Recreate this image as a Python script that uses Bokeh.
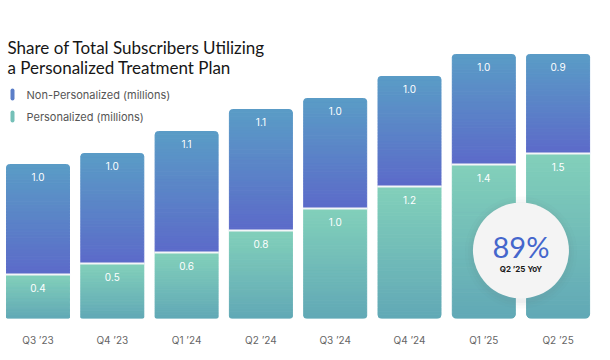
from bokeh.plotting import figure
from bokeh.models import Range1d, FixedTicker, Label, ColumnDataSource
from bokeh.core.properties import value
from bokeh.embed import file_html
from bokeh.resources import INLINE

# ---- data ----
quarters = ["Q3 ’23", "Q4 ’23", "Q1 ’24", "Q2 ’24", "Q3 ’24", "Q4 ’24", "Q1 ’25", "Q2 ’25"]
personalized = [0.4, 0.5, 0.6, 0.8, 1.0, 1.2, 1.4, 1.5]
non_personalized = [1.0, 1.0, 1.1, 1.1, 1.0, 1.0, 1.0, 0.9]
series_names = ["Non-Personalized (millions)", "Personalized (millions)"]
title_lines = ["Share of Total Subscribers Utilizing", "a Personalized Treatment Plan"]
callout_value = "89%"
callout_label = "Q2 ’25 YoY"

# ---- styling ----
TFONT = "Lato"
FONT = "Inter"
W, H = 600, 350
PX_X = 74.3          # px per category
PX_Y = 110.0         # px per million
FRAME_H = 318
XS = -37.5 / PX_X
XE = XS + W / PX_X
YE = FRAME_H / PX_Y
BAR_W = 63 / PX_X

NP_TOP, NP_BOT = (90, 156, 198), (92, 106, 201)
P_TOP, P_BOT = (130, 208, 186), (97, 168, 182)


def mix(c1, c2, t):
    r = [round(a + (b - a) * t) for a, b in zip(c1, c2)]
    return "#%02x%02x%02x" % tuple(r)


def dx(xabs):
    return XS + xabs / PX_X


def dy(yabs):
    return (FRAME_H - yabs) / PX_Y


p = figure(width=W, height=H, output_backend="svg", toolbar_location=None,
           x_range=Range1d(XS, XE), y_range=Range1d(0, YE),
           y_axis_location=None, min_border_left=0, min_border_right=0,
           min_border_top=0, min_border_bottom=H - FRAME_H)
p.outline_line_color = None
p.xgrid.visible = False
p.ygrid.visible = False
p.background_fill_color = "white"
p.border_fill_color = "white"

xs = list(range(len(quarters)))
totals = [a + b for a, b in zip(personalized, non_personalized)]

# gradient strips
N = 36


def gradient_segment(bottoms, tops, ctop, cbot, round_top):
    for k in range(N):
        t0 = k / N
        t1 = (k + 1) / N
        col = mix(cbot, ctop, (k + 0.5) / N)
        src = ColumnDataSource(dict(
            x=xs,
            b=[b + (t - b) * t0 for b, t in zip(bottoms, tops)],
            t=[b + (t - b) * t1 for b, t in zip(bottoms, tops)]))
        kw = {}
        if round_top and k == N - 1:
            kw["border_radius"] = (5, 5, 0, 0)
        if (not round_top) and k == 0:
            kw["border_radius"] = (0, 0, 5, 5)
        p.vbar(x="x", bottom="b", top="t", width=BAR_W, source=src,
               fill_color=col, line_color=col, line_width=1, **kw)


gradient_segment([0] * len(xs), personalized, P_TOP, P_BOT, False)
gradient_segment(personalized, totals, NP_TOP, NP_BOT, True)

# white separator between segments
p.segment(x0=[x - BAR_W / 2 - 0.01 for x in xs], x1=[x + BAR_W / 2 + 0.01 for x in xs],
          y0=personalized, y1=personalized, line_color="#f4f6f8", line_width=2)

# value labels
p.text(x=xs, y=totals, text=[f"{v:.1f}" for v in non_personalized],
       y_offset=12, text_align="center", text_baseline="middle",
       text_color="white", text_font_size="10px", text_font=value(FONT))
p.text(x=xs, y=personalized, text=[f"{v:.1f}" for v in personalized],
       y_offset=13, text_align="center", text_baseline="middle",
       text_color="white", text_font_size="10px", text_font=value(FONT))

# callout circle between last two bars
cx = (xs[-2] + xs[-1]) / 2
cy = dy(250)
for s, a in [(112, 0.03), (106, 0.04), (101, 0.05)]:
    p.scatter(x=[cx], y=[cy - 2 / PX_Y], size=s, marker="circle",
              fill_color="#6f7f85", fill_alpha=a, line_color=None)
p.scatter(x=[cx], y=[cy], size=96, marker="circle",
          fill_color="#f4f4f4", line_color=None)
p.text(x=[cx], y=[cy], text=[callout_value], y_offset=-4,
       text_align="center", text_baseline="middle", text_color="#4466cc",
       text_font_size="29px", text_font=value(TFONT))
p.text(x=[cx], y=[cy], text=[callout_label], y_offset=18,
       text_align="center", text_baseline="middle", text_color="#1a1a1a",
       text_font_size="8px", text_font_style="bold", text_font=value(FONT))

# title
for i, line in enumerate(title_lines):
    p.add_layout(Label(x=dx(7), y=dy(47 + 20 * i), text=line, text_font=TFONT,
                       text_font_size="17px", text_color="#161616",
                       text_baseline="alphabetic"))

# legend
for i, (name, col) in enumerate(zip(series_names, [mix(NP_TOP, NP_BOT, 0.6), mix(P_TOP, P_BOT, 0.4)])):
    yc = 94 + 22 * i
    p.quad(left=[dx(10)], right=[dx(14)], top=[dy(yc - 6)], bottom=[dy(yc + 6)],
           fill_color=col, line_color=None, border_radius=2)
    p.add_layout(Label(x=dx(26), y=dy(yc), text=name, text_font=FONT,
                       text_font_size="11px", text_color="#555555",
                       text_baseline="middle"))

# x axis
ax = p.xaxis[0]
ax.ticker = FixedTicker(ticks=xs)
ax.major_label_overrides = {i: q for i, q in enumerate(quarters)}
ax.axis_line_color = None
ax.major_tick_line_color = None
ax.minor_tick_line_color = None
ax.major_label_standoff = 9
ax.major_label_text_font = FONT
ax.major_label_text_font_size = "10px"
ax.major_label_text_color = "#666666"

open("out.html", "w").write(file_html(p, INLINE))
